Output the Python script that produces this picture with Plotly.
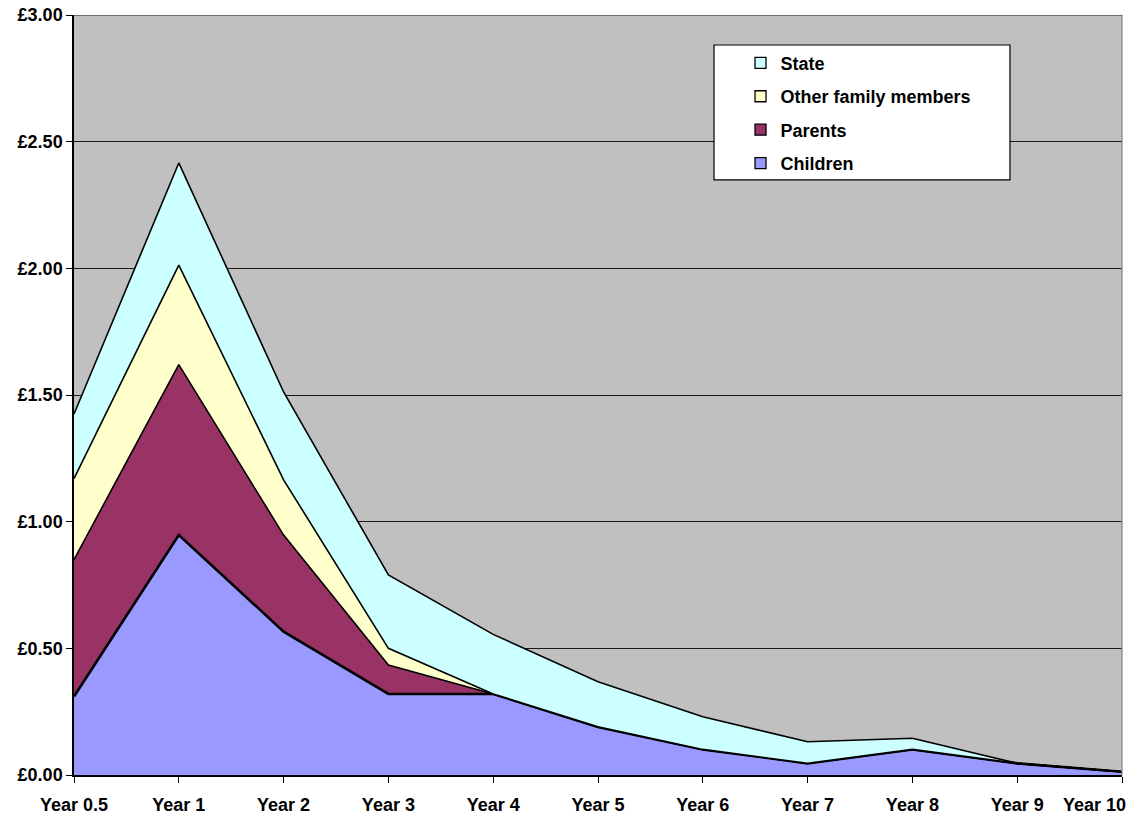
import plotly.graph_objects as go

# Cost per period, stacked by who bears it
years = ["Year 0.5", "Year 1", "Year 2", "Year 3", "Year 4", "Year 5",
         "Year 6", "Year 7", "Year 8", "Year 9", "Year 10"]
children = [0.31, 0.947, 0.566, 0.32, 0.32, 0.19, 0.101, 0.046, 0.101, 0.046, 0.013]
parents = [0.54, 0.673, 0.381, 0.114, 0.0, 0.0, 0.0, 0.0, 0.0, 0.0, 0.0]
other_family = [0.32, 0.393, 0.218, 0.066, 0.0, 0.0, 0.0, 0.0, 0.0, 0.0, 0.0]
state = [0.255, 0.403, 0.347, 0.29, 0.235, 0.178, 0.129, 0.085, 0.044, 0.0, 0.0]
y_ticks = [0.0, 0.5, 1.0, 1.5, 2.0, 2.5, 3.0]
y_ticktext = [f"£{v:.2f}" for v in y_ticks]

series = [
    ("Children", children, "#9999FF", 2.6),
    ("Parents", parents, "#993366", 1.6),
    ("Other family members", other_family, "#FFFFCC", 1.6),
    ("State", state, "#CCFFFF", 1.6),
]

FONT = "Liberation Sans, Arial, sans-serif"
SIZE = 18

fig = go.Figure()
for name, vals, color, lw in series:
    fig.add_trace(go.Scatter(
        x=years, y=vals, name=name, stackgroup="one", mode="lines",
        fillcolor=color, line=dict(color="black", width=lw),
        showlegend=False, hoverinfo="x+y+name",
    ))

# Square swatches for the legend
for rank, (name, vals, color, lw) in enumerate(reversed(series)):
    fig.add_trace(go.Scatter(
        x=[None], y=[None], mode="markers", name=name,
        legendgroup=name, legendrank=rank + 1,
        marker=dict(symbol="square", size=11, color=color,
                    line=dict(color="black", width=1.3)),
    ))

fig.update_layout(
    width=1139, height=821,
    margin=dict(l=74, r=17, t=15, b=46, autoexpand=False),
    paper_bgcolor="white", plot_bgcolor="#C0C0C0",
    font=dict(family=FONT, size=SIZE, color="black"),
    showlegend=True,
    legend=dict(
        x=0.636, y=0.961, xanchor="left", yanchor="top",
        bgcolor="rgba(0,0,0,0)", borderwidth=0,
        tracegroupgap=7, itemwidth=30,
        font=dict(family=FONT, size=SIZE, color="black", weight="bold"),
    ),
    xaxis=dict(
        type="category", categoryorder="array", categoryarray=years,
        range=[0, len(years) - 1], automargin=False,
        tickmode="array", tickvals=years,
        ticktext=years[:-1] + [""],
        ticks="outside", ticklen=6, tickcolor="black",
        ticklabelstandoff=7,
        showgrid=False, showline=True, linecolor="black", linewidth=1.5,
        tickfont=dict(family=FONT, size=SIZE, color="black", weight="bold"),
        fixedrange=True,
    ),
    yaxis=dict(
        range=[0, 3], automargin=False,
        tickmode="array", tickvals=y_ticks, ticktext=y_ticktext,
        ticks="outside", ticklen=6, tickcolor="black",
        showgrid=True, gridcolor="#1a1a1a", gridwidth=1,
        zeroline=False,
        showline=True, linecolor="black", linewidth=1.5,
        tickfont=dict(family=FONT, size=SIZE, color="black", weight="bold"),
        fixedrange=True,
    ),
    shapes=[
        # legend frame
        dict(type="rect", xref="paper", yref="paper",
             x0=0.6107, x1=0.8931, y0=0.783, y1=0.9605,
             fillcolor="white", line=dict(color="black", width=1.2),
             layer="above"),
        # right edge of plot area
        dict(type="line", xref="paper", yref="paper",
             x0=1, x1=1, y0=0, y1=1, line=dict(color="#808080", width=1.2)),
        dict(type="line", xref="paper", yref="y",
             x0=0, x1=1, y0=3, y1=3, line=dict(color="#1a1a1a", width=1)),
    ],
    annotations=[
        dict(x=years[-1], y=0, xref="x", yref="y", text="Year 10",
             showarrow=False, xanchor="right", yanchor="top",
             xshift=6, yshift=-18,
             font=dict(family=FONT, size=SIZE, color="black", weight="bold")),
    ],
)

fig.write_html("out.html")
